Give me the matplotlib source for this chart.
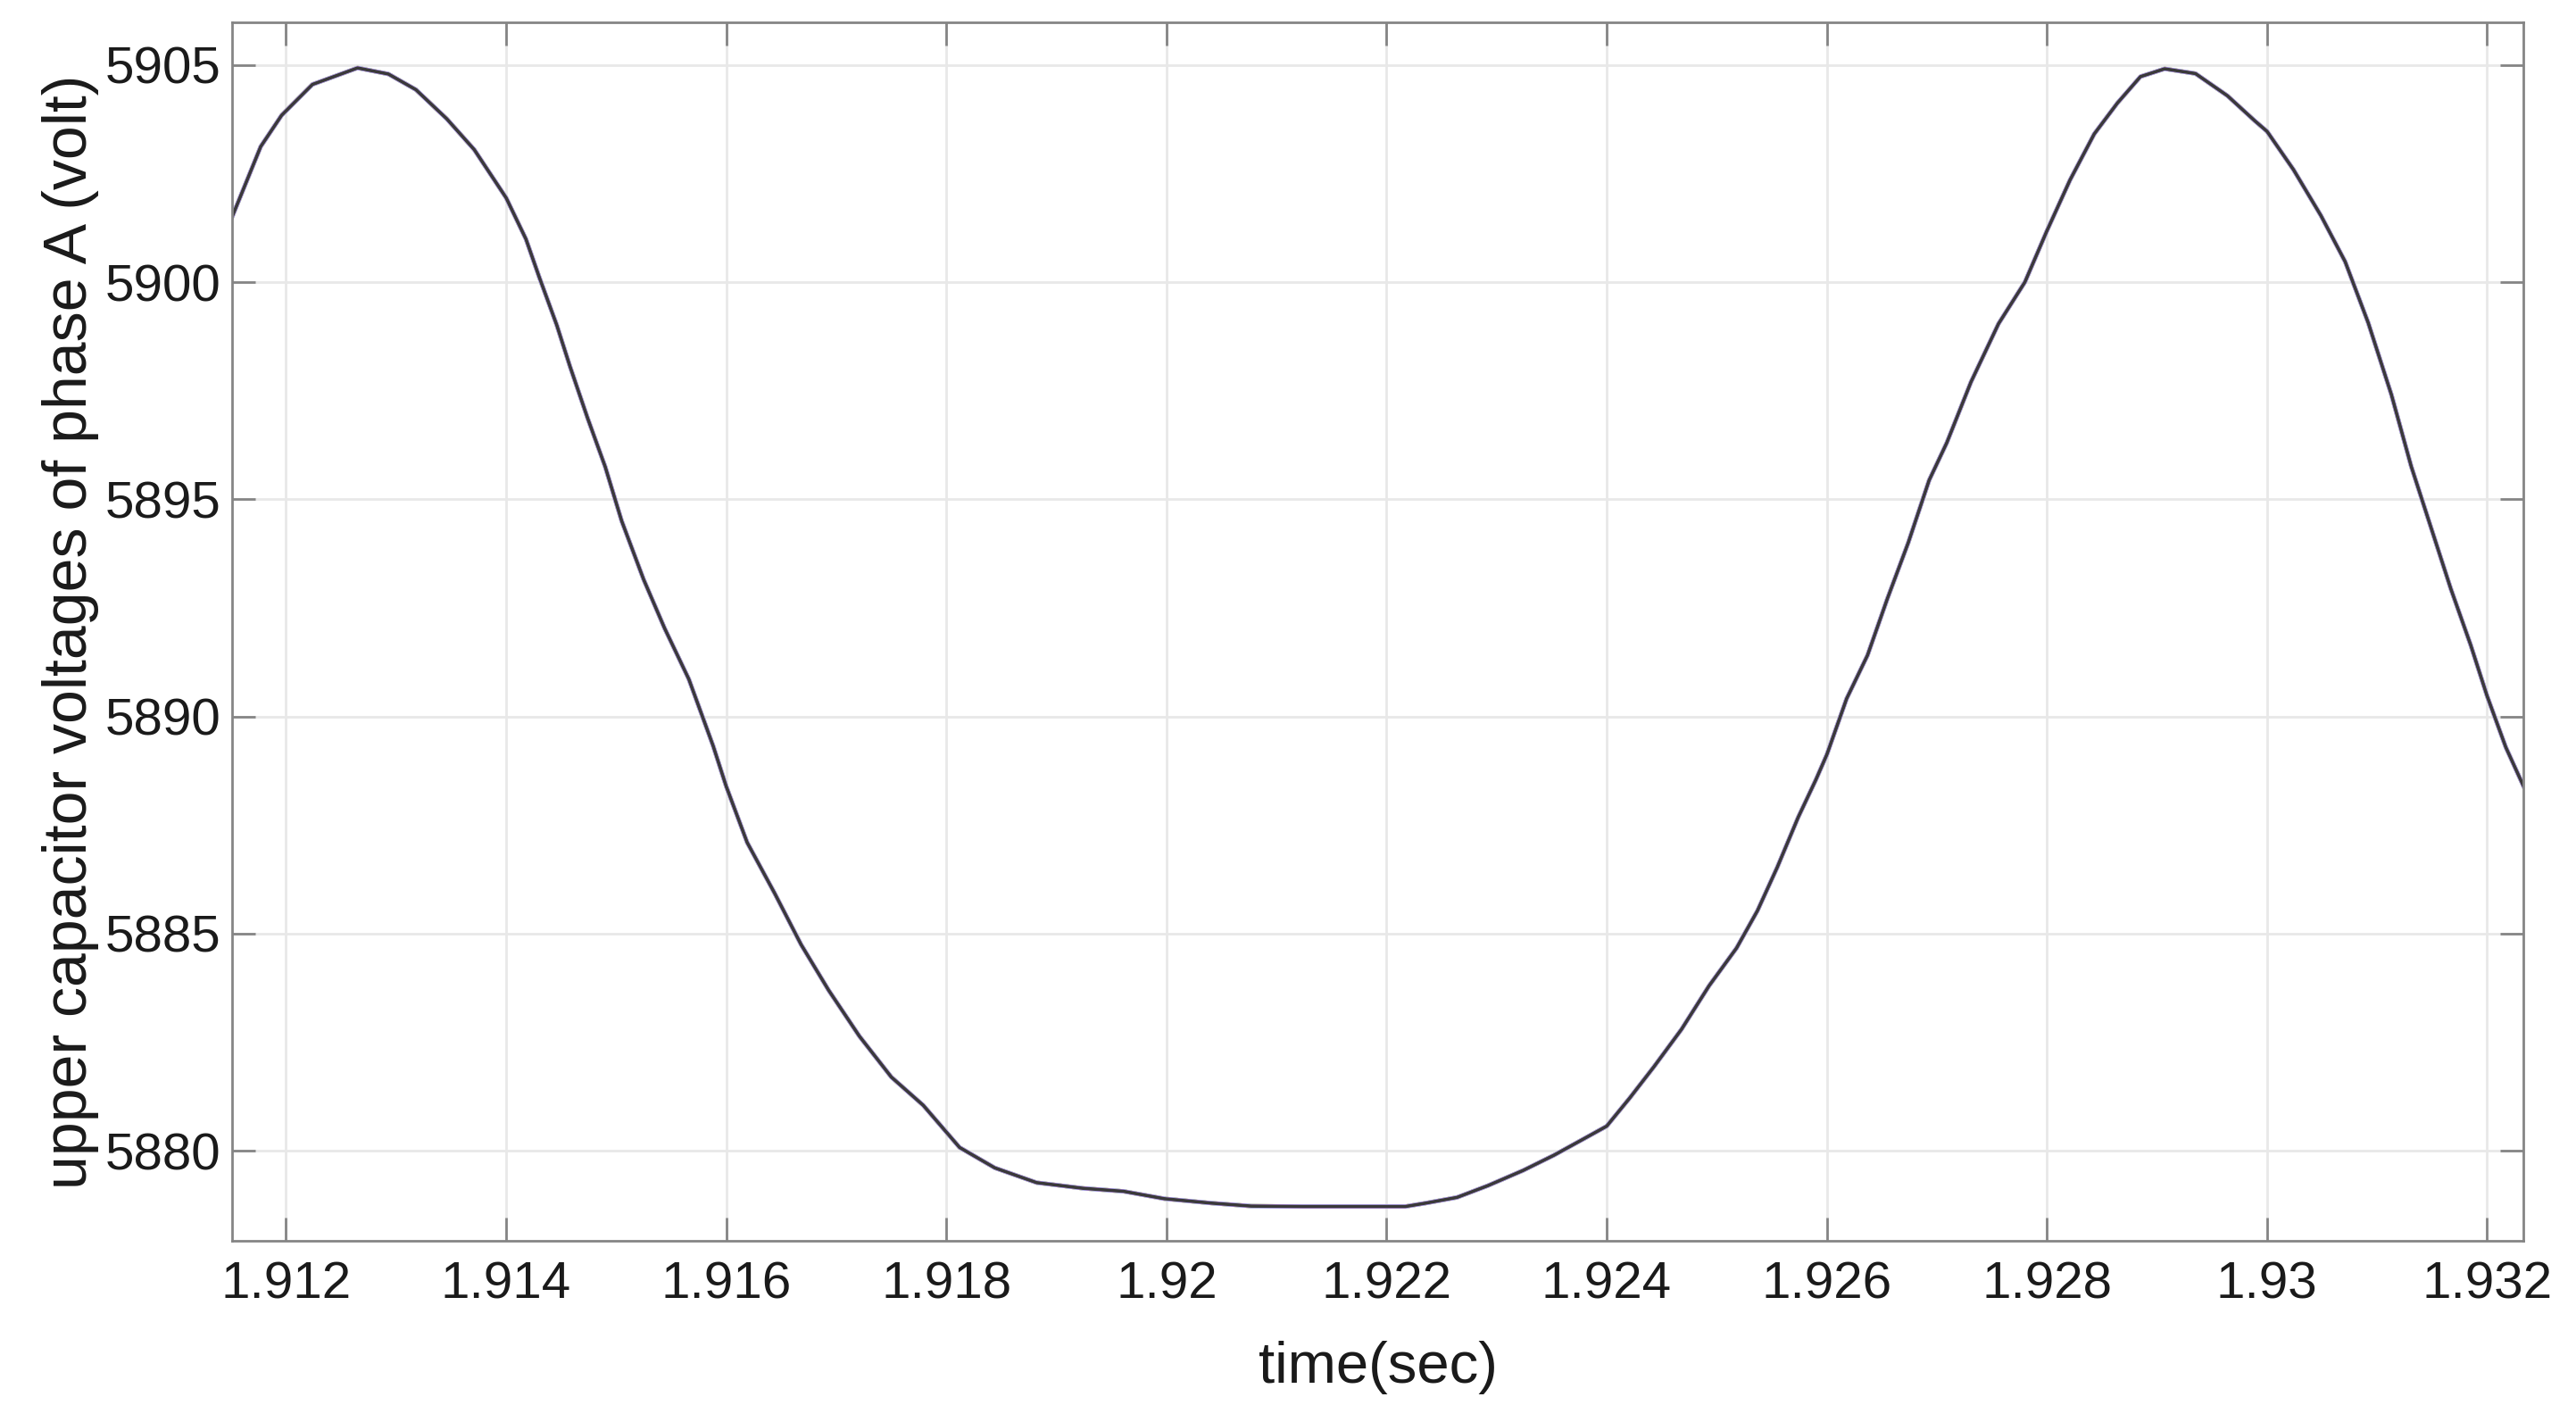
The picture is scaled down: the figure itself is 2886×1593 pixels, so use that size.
import numpy as np
import matplotlib.pyplot as plt

plt.rcParams['font.family'] = ['Liberation Sans', 'DejaVu Sans']

# Time axis (sec) and capacitor voltage (volt)
time_s = [
    1.91151, 1.91177, 1.91196, 1.91224, 1.91265, 1.91293, 1.91318, 1.91346,
    1.91371, 1.91400, 1.91418, 1.91430, 1.91446, 1.91458, 1.91474, 1.91490,
    1.91505, 1.91525, 1.91544, 1.91566, 1.91588, 1.91600, 1.91619, 1.91644,
    1.91668, 1.91693, 1.91721, 1.91750, 1.91779, 1.91812, 1.91844, 1.91882,
    1.91924, 1.91961, 1.91998, 1.92040, 1.92077, 1.92124, 1.92171, 1.92217,
    1.92236, 1.92264, 1.92292, 1.92324, 1.92352, 1.92380, 1.92400, 1.92421,
    1.92443, 1.92468, 1.92493, 1.92518, 1.92537, 1.92555, 1.92574, 1.92590,
    1.92600, 1.92618, 1.92637, 1.92655, 1.92674, 1.92693, 1.92709, 1.92731,
    1.92756, 1.92780, 1.92800, 1.92821, 1.92843, 1.92864, 1.92885, 1.92907,
    1.92935, 1.92964, 1.92989, 1.93000, 1.93024, 1.93049, 1.93071, 1.93092,
    1.93113, 1.93131, 1.93149, 1.93167, 1.93185, 1.93200, 1.93217, 1.93233,
]
voltage = [
    5901.50, 5903.12, 5903.84, 5904.55, 5904.93, 5904.79, 5904.43, 5903.76,
    5903.05, 5901.94, 5900.99, 5900.12, 5899.01, 5898.06, 5896.87, 5895.75,
    5894.50, 5893.15, 5892.03, 5890.86, 5889.33, 5888.39, 5887.10, 5885.93,
    5884.75, 5883.70, 5882.64, 5881.70, 5881.05, 5880.08, 5879.61, 5879.27,
    5879.14, 5879.07, 5878.90, 5878.80, 5878.73, 5878.72, 5878.72, 5878.72,
    5878.80, 5878.93, 5879.20, 5879.55, 5879.90, 5880.29, 5880.57, 5881.22,
    5881.94, 5882.80, 5883.80, 5884.67, 5885.53, 5886.53, 5887.68, 5888.54,
    5889.12, 5890.41, 5891.41, 5892.71, 5894.00, 5895.44, 5896.30, 5897.70,
    5899.04, 5900.00, 5901.18, 5902.35, 5903.41, 5904.12, 5904.73, 5904.91,
    5904.80, 5904.29, 5903.71, 5903.47, 5902.59, 5901.53, 5900.47, 5899.06,
    5897.41, 5895.76, 5894.35, 5892.94, 5891.65, 5890.47, 5889.29, 5888.40,
]

x_ticks = [1.912, 1.914, 1.916, 1.918, 1.92, 1.922, 1.924, 1.926, 1.928, 1.93, 1.932]
y_ticks = [5880, 5885, 5890, 5895, 5900, 5905]

# the capacitor traces sit on top of each other, so the colours only show at the edges
trace_colors = ['#ffee66', '#ff9966', '#b3ff66', '#66ccff', '#cc99ff']

fig = plt.figure(figsize=(14.43, 7.965), dpi=200)
ax = fig.add_axes([0.0901, 0.1274, 0.8895, 0.8566])

for c in trace_colors:
    ax.plot(time_s, voltage, color=c, linewidth=1.7)
ax.plot(time_s, voltage, color='#3a3a3a', linewidth=1.3)

ax.set_xlim(1.91151, 1.93233)
ax.set_ylim(5877.93, 5905.97)
ax.set_xticks(x_ticks)
ax.set_xticklabels(['%g' % t for t in x_ticks])
ax.set_yticks(y_ticks)
ax.set_yticklabels([str(v) for v in y_ticks])

# MATLAB look: box, inward ticks, light grid
ax.grid(True, color='#e8e8e8', linewidth=1.0)
ax.set_axisbelow(True)
for s in ax.spines.values():
    s.set_color('#858585')
    s.set_linewidth(1.0)
ax.tick_params(direction='in', length=9.5, width=1.0, color='#858585',
               top=True, right=True, labelsize=21, labelcolor='#1a1a1a')
ax.tick_params(axis='x', pad=8)
ax.tick_params(axis='y', pad=4.5)

ax.set_xlabel('time(sec)', fontsize=23.5, color='#1a1a1a')
ax.set_ylabel('upper capacitor voltages of phase A (volt)', fontsize=24.5, color='#1a1a1a')
ax.xaxis.set_label_coords(0.5, -0.082)
ax.yaxis.set_label_coords(-0.058, 0.5)

plt.savefig('out.png', dpi=200, facecolor='white')
